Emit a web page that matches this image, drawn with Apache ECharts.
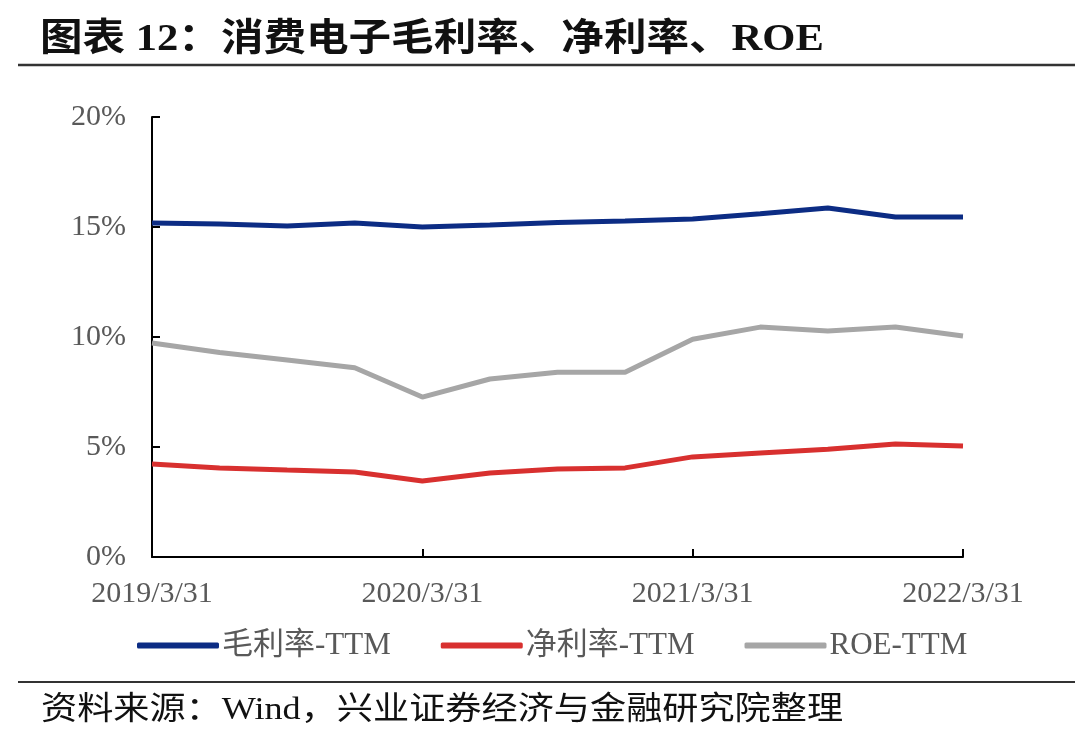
<!DOCTYPE html>
<html>
<head>
<meta charset="utf-8">
<script src="https://cdn.jsdelivr.net/npm/echarts@6/dist/echarts.min.js"></script>
<style>
html,body{margin:0;padding:0;background:#fff;}
#main{width:1080px;height:735px;}
</style>
</head>
<body>
<div id="main"></div>
<script>
var categories = ['2019/3/31','2019/6/30','2019/9/30','2019/12/31','2020/3/31','2020/6/30','2020/9/30','2020/12/31','2021/3/31','2021/6/30','2021/9/30','2021/12/31','2022/3/31'];
var grossMargin = [15.18,15.14,15.05,15.18,15.0,15.09,15.2,15.27,15.36,15.6,15.86,15.45,15.45];
var netMargin = [4.23,4.05,3.95,3.86,3.45,3.82,4.0,4.05,4.55,4.73,4.9,5.14,5.05];
var roe = [9.73,9.3,8.95,8.6,7.27,8.09,8.4,8.4,9.9,10.45,10.27,10.45,10.05];
var seriesNames = ['毛利率-TTM','净利率-TTM','ROE-TTM'];
var yTicks = {min:0, max:20, interval:5};
var titleText = '图表 12：消费电子毛利率、净利率、ROE';
var sourceText = '资料来源：Wind，兴业证券经济与金融研究院整理';

var serifCJK = '"Liberation Serif", "Times New Roman", "Noto Sans CJK SC", serif';
var chart = echarts.init(document.getElementById('main'), null, {renderer:'canvas'});
var colors = ['#0c2c84','#d8302f','#a6a6a6'];
var option = {
  backgroundColor:'#ffffff',
  animation:false,
  graphic:[
    {type:'text', x:40, y:40, scaleX:1.12,
     style:{text:titleText, x:0, y:0, verticalAlign:'middle', align:'left',
            font:'bold 38px ' + serifCJK, fill:'#111'}},
    {type:'text', x:41, y:711, scaleX:1.13,
     style:{text:sourceText, x:0, y:0, verticalAlign:'middle', align:'left',
            font:'32px ' + serifCJK, fill:'#111'}},
    {type:'line', shape:{x1:18,y1:65,x2:1075,y2:65}, style:{stroke:'#333',lineWidth:2.5}},
    {type:'line', shape:{x1:18,y1:682,x2:1075,y2:682}, style:{stroke:'#333',lineWidth:2}}
  ],
  color:colors,
  grid:{left:152, right:117, top:117, bottom:178, containLabel:false},
  legend:{
    data:seriesNames, top:625, left:132, itemWidth:82, itemHeight:6, itemGap:50,
    icon:'roundRect',
    textStyle:{fontFamily:serifCJK, fontSize:31, color:'#595959', padding:[0,0,0,-2]}
  },
  xAxis:{
    type:'category', data:categories, boundaryGap:false,
    axisLine:{lineStyle:{color:'#000', width:2}},
    axisTick:{inside:true, length:8, interval:3, lineStyle:{color:'#000', width:2}},
    axisLabel:{interval:3, margin:22, fontFamily:serifCJK, fontSize:30, color:'#595959'}
  },
  yAxis:{
    type:'value', min:yTicks.min, max:yTicks.max, interval:yTicks.interval,
    splitLine:{show:false},
    axisLine:{show:true, lineStyle:{color:'#000', width:2}},
    axisTick:{show:true, inside:true, length:8, lineStyle:{color:'#000', width:2}},
    axisLabel:{formatter:'{value}%', margin:26, fontFamily:serifCJK, fontSize:30, color:'#595959'}
  },
  series:[
    {name:seriesNames[0], type:'line', data:grossMargin, symbol:'none', lineStyle:{width:5, color:colors[0]}},
    {name:seriesNames[1], type:'line', data:netMargin, symbol:'none', lineStyle:{width:5, color:colors[1]}},
    {name:seriesNames[2], type:'line', data:roe, symbol:'none', lineStyle:{width:5, color:colors[2]}}
  ]
};
chart.setOption(option);
</script>
</body>
</html>
